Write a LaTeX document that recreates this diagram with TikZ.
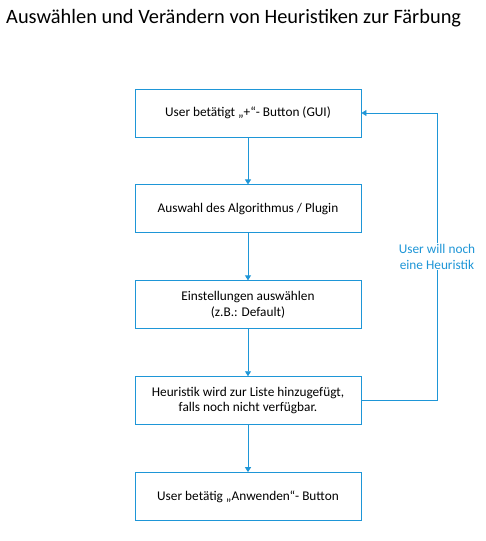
\documentclass[tikz,border=0pt]{standalone}
\usepackage{fontspec}
\setmainfont{Carlito}
\usetikzlibrary{arrows.meta,positioning}

\definecolor{flowblue}{RGB}{30,150,215}

\begin{document}
\begin{tikzpicture}[x=1pt, y=-1pt, >={Triangle[length=5pt,width=6pt]},
    stepbox/.style={draw=flowblue, line width=0.9pt, minimum width=226pt,
      minimum height=48pt, align=center, inner sep=2pt,
      font=\fontsize{13.3}{15.5}\selectfont},
    flow/.style={->, draw=flowblue, line width=0.9pt}]
  % Rahmen
  \useasboundingbox (0,0) rectangle (486,541);

  % Titel
  \node[anchor=west, inner sep=0pt, font=\fontsize{20.4}{24}\selectfont] (titel) at (6,18.5)
    {Auswählen und Verändern von Heuristiken zur Färbung};

  % Schritte
  \node[stepbox] (plus) at (248,113) {User betätigt „+“- Button (GUI)};
  \node[stepbox, below=47pt of plus] (algo) {Auswahl des Algorithmus / Plugin};
  \node[stepbox, below=47pt of algo] (einst) {Einstellungen auswählen\\(z.B.: Default)};
  \node[stepbox, below=47pt of einst] (liste) {Heuristik wird zur Liste hinzugefügt,\\falls noch nicht verfügbar.};
  \node[stepbox, below=47pt of liste] (anw) {User betätig „Anwenden“- Button};

  \draw[flow] (plus) -- (algo);
  \draw[flow] (algo) -- (einst);
  \draw[flow] (einst) -- (liste);
  \draw[flow] (liste) -- (anw);

  % Rückführung
  \coordinate (rechts) at (437,0);
  \draw[flow] (liste.east) -- (liste.east -| rechts)
    -- node[fill=white, text=flowblue, align=center, inner sep=1pt,
            font=\fontsize{13.3}{15.5}\selectfont, pos=0.5] (nochmal)
       {User will noch\\eine Heuristik}
    (plus.east -| rechts) -- (plus.east);
\end{tikzpicture}
\end{document}
